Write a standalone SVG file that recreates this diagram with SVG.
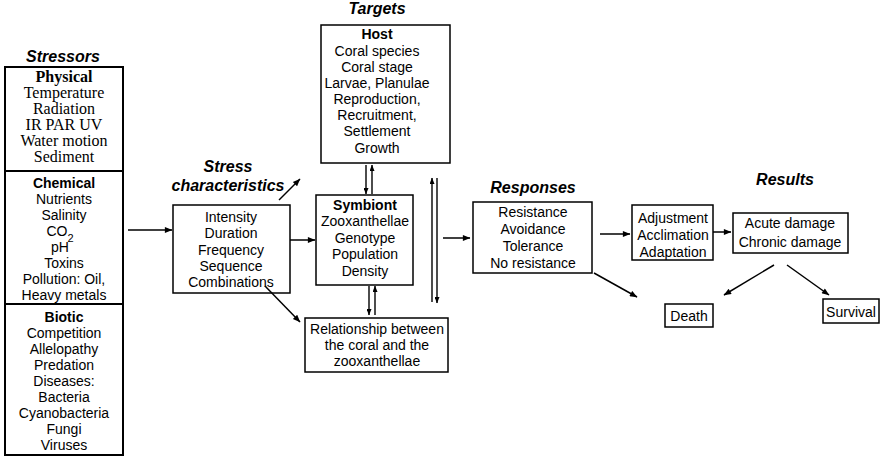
<svg xmlns="http://www.w3.org/2000/svg" width="885" height="464" viewBox="0 0 885 464">
<defs>
<marker id="ah" viewBox="0 0 10 8" refX="9.5" refY="4" markerWidth="9" markerHeight="6" markerUnits="userSpaceOnUse" orient="auto">
<path d="M0,0 L10,4 L0,8 Z" fill="#000"/>
</marker>
<marker id="ahs" viewBox="0 0 10 8" refX="9.5" refY="4" markerWidth="8" markerHeight="5" markerUnits="userSpaceOnUse" orient="auto">
<path d="M0,0 L10,4 L0,8 Z" fill="#000"/>
</marker>
</defs>
<style>
.box{fill:#fff;stroke:#000;stroke-width:1.5}
.sb{fill:none;stroke:#000;stroke-width:2}
.t{font-family:"Liberation Sans",Arial,sans-serif;font-size:14px;text-anchor:middle;fill:#000}
.tb{font-family:"Liberation Sans",Arial,sans-serif;font-size:14px;font-weight:bold;text-anchor:middle;fill:#000}
.s{font-family:"Liberation Serif","Times New Roman",serif;font-size:16px;text-anchor:middle;fill:#000}
.sbold{font-family:"Liberation Serif","Times New Roman",serif;font-size:16px;font-weight:bold;text-anchor:middle;fill:#000}
.h{font-family:"Liberation Sans",Arial,sans-serif;font-size:16px;font-weight:bold;font-style:italic;text-anchor:middle;fill:#000}
.c{fill:none;stroke:#000;stroke-width:1.5;marker-end:url(#ah)}
.cs{fill:none;stroke:#000;stroke-width:1.4;marker-end:url(#ahs)}
</style>

<g id="titles">
<text class="h" x="63" y="62">Stressors</text>
<text class="h" x="228" y="172">Stress</text>
<text class="h" x="228" y="191">characteristics</text>
<text class="h" x="377" y="14">Targets</text>
<text class="h" x="533" y="193">Responses</text>
<text class="h" x="785" y="185">Results</text>
</g>

<g id="stressors">
<rect class="sb" x="5" y="67" width="118" height="388"/>
<line x1="5" y1="171" x2="123" y2="171" stroke="#000" stroke-width="2"/>
<line x1="5" y1="304" x2="123" y2="304" stroke="#000" stroke-width="2"/>
<text class="sbold" x="64" y="82">Physical</text>
<text class="s" x="64" y="98">Temperature</text>
<text class="s" x="64" y="114">Radiation</text>
<text class="s" x="64" y="130">IR PAR UV</text>
<text class="s" x="64" y="146">Water motion</text>
<text class="s" x="64" y="162">Sediment</text>
<text class="tb" x="64" y="188">Chemical</text>
<text class="t" x="64" y="204">Nutrients</text>
<text class="t" x="64" y="220">Salinity</text>
<text class="t" x="60" y="236">CO<tspan font-size="11" dy="6">2</tspan></text>
<text class="t" x="60" y="252">pH</text>
<text class="t" x="64" y="268">Toxins</text>
<text class="t" x="64" y="284">Pollution: Oil,</text>
<text class="t" x="64" y="300">Heavy metals</text>
<text class="tb" x="64" y="322">Biotic</text>
<text class="t" x="64" y="338">Competition</text>
<text class="t" x="64" y="354">Allelopathy</text>
<text class="t" x="64" y="370">Predation</text>
<text class="t" x="64" y="386">Diseases:</text>
<text class="t" x="64" y="402">Bacteria</text>
<text class="t" x="64" y="418">Cyanobacteria</text>
<text class="t" x="64" y="434">Fungi</text>
<text class="t" x="64" y="450">Viruses</text>
</g>

<g id="stress-characteristics">
<rect class="box" x="173" y="205" width="117" height="88"/>
<text class="t" x="231" y="222">Intensity</text>
<text class="t" x="231" y="238">Duration</text>
<text class="t" x="231" y="255">Frequency</text>
<text class="t" x="231" y="271">Sequence</text>
<text class="t" x="231" y="287">Combinations</text>
</g>

<g id="host">
<rect class="box" x="321" y="25" width="129" height="138"/>
<text class="tb" x="377" y="39">Host</text>
<text class="t" x="377" y="56">Coral species</text>
<text class="t" x="377" y="72">Coral stage</text>
<text class="t" x="377" y="88">Larvae, Planulae</text>
<text class="t" x="377" y="104">Reproduction,</text>
<text class="t" x="377" y="120">Recruitment,</text>
<text class="t" x="377" y="136">Settlement</text>
<text class="t" x="377" y="153">Growth</text>
</g>

<g id="symbiont">
<rect class="box" x="316" y="195" width="97" height="90"/>
<text class="tb" x="365" y="210">Symbiont</text>
<text class="t" x="365" y="226">Zooxanthellae</text>
<text class="t" x="365" y="243">Genotype</text>
<text class="t" x="365" y="259">Population</text>
<text class="t" x="365" y="276">Density</text>
</g>

<g id="relationship">
<rect class="box" x="305" y="318" width="143" height="54"/>
<text class="t" x="377" y="334">Relationship between</text>
<text class="t" x="377" y="350">the coral and the</text>
<text class="t" x="377" y="366">zooxanthellae</text>
</g>

<g id="responses">
<rect class="box" x="473" y="202" width="119" height="71"/>
<text class="t" x="533" y="217">Resistance</text>
<text class="t" x="533" y="234">Avoidance</text>
<text class="t" x="533" y="251">Tolerance</text>
<text class="t" x="533" y="268">No resistance</text>
</g>

<g id="adjustment">
<rect class="box" x="632" y="205" width="81" height="55"/>
<text class="t" x="673" y="223">Adjustment</text>
<text class="t" x="673" y="240">Acclimation</text>
<text class="t" x="673" y="257">Adaptation</text>
</g>

<g id="damage">
<rect class="box" x="733" y="213" width="115" height="40"/>
<text class="t" x="790" y="228">Acute damage</text>
<text class="t" x="790" y="247">Chronic damage</text>
</g>

<g id="death">
<rect class="box" x="665" y="304" width="48" height="23"/>
<text class="t" x="689" y="321">Death</text>
</g>

<g id="survival">
<rect class="box" x="823" y="299" width="56" height="24"/>
<text class="t" x="851" y="317">Survival</text>
</g>

<g id="connectors">
<line class="c" x1="128" y1="230" x2="172" y2="230"/>
<line class="c" x1="279" y1="200" x2="300" y2="179"/>
<line class="c" x1="290" y1="240" x2="315" y2="240"/>
<line class="c" x1="265" y1="286" x2="300" y2="322"/>
<line class="cs" x1="366" y1="165" x2="366" y2="194"/>
<line class="cs" x1="372" y1="194" x2="372" y2="165"/>
<line class="cs" x1="369" y1="286" x2="369" y2="315"/>
<line class="cs" x1="375" y1="315" x2="375" y2="286"/>
<line class="cs" x1="432" y1="302" x2="432" y2="178"/>
<line class="cs" x1="437" y1="178" x2="437" y2="303"/>
<line class="c" x1="443" y1="238" x2="470" y2="238"/>
<line class="c" x1="600" y1="234" x2="630" y2="234"/>
<line class="c" x1="594" y1="273" x2="637" y2="297"/>
<line class="c" x1="713" y1="232" x2="731" y2="232"/>
<line class="c" x1="774" y1="265" x2="724" y2="295"/>
<line class="c" x1="787" y1="265" x2="829" y2="295"/>
</g>
</svg>
